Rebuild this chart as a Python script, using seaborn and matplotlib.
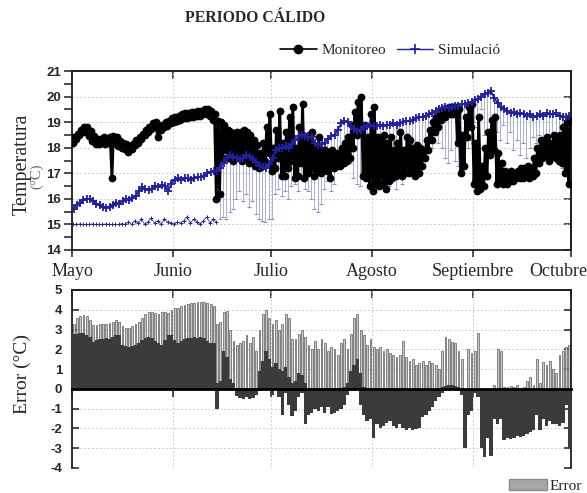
import numpy as np
import matplotlib
matplotlib.use("Agg")
import matplotlib.pyplot as plt
import matplotlib.transforms as mtrans
import seaborn as sns
from matplotlib.lines import Line2D
from matplotlib.patches import Patch
from matplotlib.ticker import MultipleLocator

# ---------------- data ----------------
title = "PERIODO CÁLIDO"
months = ["Mayo", "Junio", "Julio", "Agosto", "Septiembre", "Octubre"]
month_day = [0, 31, 61, 92, 123, 153]          # day index of 1st of month (May 1 = 0)
temp_ticks = [14, 15, 16, 17, 18, 19, 20, 21]
err_ticks = [-4, -3, -2, -1, 0, 1, 2, 3, 4, 5]

# Monitoreo: daily max / min temperature (°C), May 1 .. Sep 30
mon_hi = [18.4, 18.55, 18.7, 18.8, 18.8, 18.65, 18.45, 18.35, 18.35, 18.4,
          18.35, 18.4, 18.45, 18.4, 18.25, 18.2, 18.15, 18.05, 18.15, 18.3,
          18.4, 18.55, 18.7, 18.8, 18.95, 19.0, 18.85, 18.9, 19.0, 19.05,
          19.15, 19.2, 19.25, 19.3, 19.35, 19.35, 19.4, 19.4, 19.45, 19.45,
          19.5, 19.5, 19.45, 19.3, 19.05, 19.0, 18.9, 18.7, 18.6, 18.5,
          18.6, 18.6, 18.7, 18.6, 18.5, 18.3, 18.1, 17.8, 18.2, 18.8,
          19.3, 18.0, 18.7, 19.45, 18.2, 18.6, 19.2, 19.6, 18.0, 18.8,
          19.7, 18.3, 18.5, 18.6, 18.0, 18.4, 17.9, 17.9, 17.8, 17.9,
          17.8, 17.8, 18.0, 18.2, 18.4, 18.9, 19.4, 19.8, 20.0, 18.9,
          18.4, 19.3, 19.6, 18.4, 18.3, 18.5, 18.2, 18.4, 17.9, 18.2,
          18.6, 17.9, 18.4, 18.3, 18.0, 18.1, 18.0, 17.9, 18.3, 18.7,
          19.0, 19.2, 19.3, 19.5, 19.5, 19.6, 19.6, 19.6, 19.5, 18.5,
          19.2, 19.6, 19.7, 18.2, 19.2, 17.3, 18.0, 18.6, 19.1, 19.2,
          17.8, 17.4, 17.1, 17.0, 17.1, 17.0, 17.1, 17.2, 17.2, 17.3,
          17.2, 17.6, 18.0, 18.3, 18.2, 18.4, 18.2, 18.5, 18.3, 18.5,
          18.8, 19.0, 19.1]
mon_lo = [18.2, 18.35, 18.5, 18.6, 18.6, 18.45, 18.25, 18.15, 18.15, 18.2,
          18.15, 18.2, 16.8, 18.2, 18.05, 18.0, 17.95, 17.85, 17.95, 18.1,
          18.2, 18.35, 18.5, 18.6, 18.75, 18.8, 18.4, 18.7, 18.8, 18.85,
          18.95, 19.0, 19.05, 19.1, 19.15, 19.15, 19.2, 19.2, 19.25, 19.25,
          19.3, 19.3, 19.25, 19.1, 16.0, 16.2, 17.6, 17.9, 17.6, 17.5,
          17.6, 17.7, 17.5, 17.6, 17.4, 17.5, 17.3, 17.2, 17.3, 17.5,
          17.8, 17.1, 17.2, 17.6, 16.9, 16.9, 17.2, 17.5, 16.8, 16.9,
          17.4, 16.8, 17.0, 17.2, 16.9, 17.1, 17.0, 17.2, 17.1, 16.8,
          17.2, 17.3, 17.3, 17.4, 17.5, 17.6, 18.0, 18.5, 18.9, 16.9,
          16.8, 16.5, 16.3, 16.6, 16.5, 16.6, 16.4, 16.7, 16.8, 16.9,
          17.0, 16.9, 17.0, 17.0, 17.1, 16.9, 17.0, 17.3, 17.6, 17.9,
          18.3, 18.6, 18.8, 19.1, 19.2, 19.3, 19.3, 19.3, 18.2, 17.0,
          17.3, 18.4, 18.8, 16.6, 16.3, 16.4, 16.5, 16.9, 17.7, 17.9,
          16.6, 16.7, 16.6, 16.6, 16.7, 16.7, 16.8, 16.8, 16.8, 16.9,
          16.8, 16.9, 17.0, 17.4, 17.6, 17.7, 17.5, 17.7, 17.6, 17.5,
          17.4, 17.0, 16.6]

# Simulación: daily typical (upper) value
sim_hi = [15.6, 15.75, 15.85, 15.95, 16.0, 16.0, 15.9, 15.8, 15.75, 15.7,
          15.65, 15.7, 15.75, 15.85, 15.8, 15.9, 16.0, 15.95, 16.05, 16.1,
          16.3, 16.45, 16.4, 16.35, 16.4, 16.5, 16.45, 16.55, 16.5, 16.3,
          16.6, 16.75, 16.8, 16.75, 16.8, 16.8, 16.75, 16.8, 16.85, 16.85,
          16.9, 17.0, 17.05, 17.1, 17.1, 17.2, 17.4, 17.6, 17.7, 17.65,
          17.6, 17.55, 17.6, 17.7, 17.65, 17.55, 17.45, 17.3, 17.25, 17.2,
          17.35, 17.6, 17.9, 18.0, 18.0, 18.05, 18.0, 18.15, 18.3, 18.45,
          18.5, 18.45, 18.4, 18.4, 18.2, 18.1, 18.15, 18.2, 18.35, 18.45,
          18.5, 18.7, 18.95, 19.05, 19.0, 18.85, 18.75, 18.65, 18.7, 18.8,
          18.85, 18.9, 18.85, 18.85, 18.9, 18.85, 18.9, 18.9, 18.95, 18.9,
          18.95, 19.0, 19.05, 19.05, 19.1, 19.15, 19.2, 19.2, 19.25, 19.3,
          19.35, 19.45, 19.5, 19.55, 19.6, 19.55, 19.6, 19.65, 19.65, 19.7,
          19.7, 19.75, 19.8, 19.85, 19.9, 20.0, 20.1, 20.15, 20.2, 19.95,
          19.75, 19.6, 19.5, 19.45, 19.35, 19.4, 19.3, 19.35, 19.3, 19.25,
          19.3, 19.2, 19.25, 19.3, 19.25, 19.35, 19.3, 19.3, 19.35, 19.25,
          19.2, 19.2, 19.25]

# Simulación: lower floor points, May 1 .. Jun 14
sim_floor = [15.0, 15.0, 15.02, 15.0, 15.0, 15.0, 15.02, 15.0, 15.0, 15.0,
             15.02, 15.0, 15.0, 15.0, 15.0, 15.03, 15.0, 15.1, 15.0, 15.15,
             15.05, 15.2, 15.0, 15.1, 15.25, 15.05, 15.15, 15.0, 15.2, 15.1,
             15.05, 15.0, 15.1, 15.05, 15.15, 15.3, 15.05, 15.2, 15.1, 15.0,
             15.15, 15.3, 15.05, 15.2, 15.1]
# Simulación: daily dips, Jun 15 .. Sep 30
dip_first_day = 45
sim_dip = [15.2, 15.3, 15.2, 15.5, 15.6,
           16.0, 16.3, 15.9, 16.2, 15.7, 15.9, 15.4, 15.2, 15.15, 15.1,
           15.2, 15.2, 16.2, 16.4, 16.1, 16.3, 16.0, 16.5, 16.6, 16.3,
           16.8, 16.4, 16.3, 16.0, 15.6, 15.5, 15.8, 16.4, 16.7, 16.3,
           16.6, 17.4, 17.5, 17.3, 17.6, 17.4, 16.8, 16.6, 16.5, 17.0,
           17.3, 17.2, 17.5, 17.1, 16.9, 17.2, 16.6, 16.5, 16.8, 16.4,
           16.9, 16.6, 17.0, 17.3, 17.5, 17.9, 17.6, 18.0, 17.8, 18.3,
           18.0, 18.5, 18.2, 18.0, 17.6, 17.4, 17.9, 17.5, 17.3, 17.6,
           17.4, 18.0, 18.3, 19.0, 18.8, 19.5, 18.5, 18.0, 18.4, 19.3,
           18.6, 18.3, 18.9, 18.2, 18.6, 17.9, 18.3, 17.7, 18.2, 17.6,
           18.0, 18.4, 18.2, 18.5, 18.3, 17.9, 18.5, 18.1, 17.6, 18.4,
           17.2, 17.8, 17.0]

# Error (°C): daily peak, dense positive level, dense negative level
err_peak = [3.3, 3.6, 3.7, 3.75, 3.7, 3.5, 3.25, 3.25, 3.3, 3.3,
            3.3, 3.35, 3.4, 3.5, 3.4, 3.2, 3.1, 3.1, 3.2, 3.3,
            3.4, 3.6, 3.8, 3.9, 3.9, 3.85, 3.8, 3.9, 3.9, 3.85,
            4.0, 4.1, 4.1, 4.2, 4.25, 4.3, 4.35, 4.35, 4.4, 4.4,
            4.4, 4.35, 4.3, 4.2, 3.3, 3.4, 3.9, 3.95, 3.0, 2.4,
            2.2, 2.3, 2.4, 2.7, 2.3, 2.6, 1.9, 3.0, 3.8, 4.0,
            3.6, 3.3, 3.5, 3.0, 3.3, 3.8, 3.6, 2.5, 2.5, 2.8,
            3.0, 2.6, 2.2, 2.0, 2.4, 2.0, 2.5, 2.3, 1.9, 2.1,
            2.0, 1.7, 2.3, 2.5, 2.0, 2.8, 3.6, 3.8, 3.0, 2.7,
            2.2, 2.5, 2.1, 2.0, 2.1, 1.9, 2.0, 1.8, 1.7, 1.6,
            1.7, 2.4, 1.6, 1.4, 1.5, 1.2, 1.3, 1.4, 1.2, 1.4,
            1.3, 1.2, 1.0, 1.9, 2.6, 2.5, 2.35, 2.3, 1.9, 1.5,
            0.0, 2.0, 1.8, 1.9, 2.85, 0.0, 0.0, 0.0, 0.0, 0.2,
            2.0, 1.9, 0.1, 0.1, 0.15, 0.1, 0.2, 0.05, 0.1, 0.4,
            0.6, 0.2, 1.5, 0.3, 1.35, 1.2, 1.4, 1.0, 0.8, 1.7,
            1.9, 2.1, 2.2]
err_pos = [2.8, 2.8, 2.85, 2.85, 2.75, 2.6, 2.35, 2.45, 2.5, 2.5,
           2.55, 2.5, 2.6, 2.75, 2.7, 2.2, 2.15, 2.1, 2.15, 2.2,
           2.3, 2.45, 2.55, 2.6, 2.55, 2.4, 2.3, 2.2, 2.45, 2.7,
           2.75, 2.45, 2.3, 2.4, 2.5, 2.55, 2.55, 2.6, 2.55, 2.6,
           2.55, 2.4, 2.3, 2.3, 0.3, 0.4, 1.9, 1.6, 0.5, 0.3,
           0.05, 0.05, 0.05, 0.05, 0.05, 0.05, 0.05, 0.9, 1.4, 1.9,
           1.5, 1.1, 1.3, 1.0, 0.9, 1.1, 0.6, 0.3, 0.4, 0.8,
           0.7, 0.3, 0.05, 0.05, 0.05, 0.05, 0.05, 0.05, 0.05, 0.05,
           0.05, 0.05, 0.05, 0.1, 0.3, 0.9, 1.2, 1.5, 0.8, 0.1,
           0.05, 0.05, 0.05, 0.05, 0.05, 0.05, 0.05, 0.05, 0.05, 0.05,
           0.05, 0.05, 0.0, 0.0, 0.0, 0.0, 0.0, 0.0, 0.0, 0.0,
           0.0, 0.0, 0.0, 0.1, 0.15, 0.2, 0.2, 0.15, 0.1, 0.05,
           0.0, 0.0, 0.0, 0.0, 0.0, 0.0, 0.0, 0.0, 0.0, 0.05,
           0.0, 0.0, 0.0, 0.0, 0.0, 0.0, 0.0, 0.0, 0.0, 0.0,
           0.0, 0.0, 0.0, 0.0, 0.0, 0.0, 0.0, 0.0, 0.0, 0.0,
           0.0, 0.0, 0.0]
err_neg = [0, 0, 0, 0, 0, 0, 0, 0, 0, 0,
           0, 0, 0, 0, 0, 0, 0, 0, 0, 0,
           0, 0, 0, 0, 0, 0, 0, 0, 0, 0,
           0, 0, 0, 0, 0, 0, 0, 0, 0, 0,
           0, 0, 0, 0, -1.0, 0, 0, 0, 0, 0,
           -0.35, -0.45, -0.5, -0.4, -0.5, -0.45, -0.3, -0.1, 0, 0,
           0, -0.3, 0, -0.4, -1.3, -0.2, -0.8, -1.35, -1.1, -0.4,
           -0.2, -1.8, -1.3, -1.2, -1.0, -1.1, -0.9, -1.2, -0.9, -1.25,
           -1.2, -1.1, -1.0, -0.8, -0.3, -0.1, 0, 0, -0.8, -1.3,
           -1.6, -1.5, -2.5, -1.8, -2.0, -1.9, -1.7, -1.6, -1.9, -2.0,
           -1.8, -2.0, -2.1, -2.0, -2.1, -2.05, -2.0, -1.4, -1.3, -1.1,
           -0.9, -0.6, -0.4, -0.2, -0.1, 0, 0, 0, 0, -0.3,
           -3.0, -1.3, -1.1, -0.2, -0.4, -3.0, -3.45, -2.5, -3.4, -1.5,
           -1.8, -1.5, -2.6, -2.5, -2.55, -2.5, -2.4, -2.45, -2.4, -2.3,
           -2.2, -2.1, -1.3, -2.1, -1.5, -1.9, -1.6, -1.8, -1.8, -1.9,
           -1.7, -0.8, -3.0]

# ---------------- figure ----------------
sns.set_theme(style="white")
plt.rcParams["font.family"] = ["Liberation Serif", "DejaVu Serif"]

W, H = 587, 493
fig = plt.figure(figsize=(W / 100, H / 100), dpi=100)
L, R = 72, 571
ax1 = fig.add_axes([L / W, 1 - 250 / H, (R - L) / W, (250 - 71) / H])
ax2 = fig.add_axes([L / W, 1 - 468 / H, (R - L) / W, (468 - 290) / H])

NAVY = "#1f1fa8"
DIPC = "#8a8ecc"
days = np.arange(len(mon_hi))

# --- top panel ---
mon_t = np.ravel(np.column_stack([days + 0.25, days + 0.7]))
mon_v = np.ravel(np.column_stack([mon_lo, mon_hi]))
floor_days = np.arange(len(sim_floor))
dip_days = np.arange(dip_first_day, dip_first_day + len(sim_dip))

sns.lineplot(x=floor_days + 0.3, y=sim_floor, ax=ax1, color=NAVY, linewidth=0.5,
             marker="+", markersize=3.5, markeredgewidth=0.7,
             markeredgecolor=NAVY, estimator=None, sort=False, legend=False,
             zorder=2)
ax1.vlines(dip_days + 0.3, sim_dip, np.asarray(sim_hi)[dip_days], color=DIPC,
           linewidth=0.5, zorder=2)
ax1.plot(dip_days + 0.3, sim_dip, linestyle="none", marker="_", markersize=3,
         color=DIPC, markeredgewidth=0.8, zorder=2)
sns.lineplot(x=mon_t, y=mon_v, ax=ax1, color="black", linewidth=2.0,
             marker="o", markersize=5.6, markeredgewidth=0,
             markerfacecolor="black", estimator=None, sort=False,
             legend=False, zorder=3)
sns.lineplot(x=days + 0.5, y=sim_hi, ax=ax1, color=NAVY, linewidth=1.2,
             marker="+", markersize=5.5, markeredgewidth=1.3,
             markeredgecolor=NAVY, estimator=None, sort=False, legend=False,
             zorder=4)

ax1.set_xlim(month_day[0], month_day[-1])
ax1.set_ylim(temp_ticks[0], temp_ticks[-1])

# --- bottom panel ---
xc = days + 0.5
ax2.bar(xc, err_peak, width=0.55, color="#c8c8c8", edgecolor="#4d4d4d",
        linewidth=0.45, zorder=2)
ax2.bar(xc, err_pos, width=1.02, color="#3b3b3b", linewidth=0, zorder=3)
ax2.bar(xc, err_neg, width=1.02, color="#3b3b3b", linewidth=0, zorder=3)
ax2.set_xlim(month_day[0], month_day[-1])
ax2.set_ylim(err_ticks[0], err_ticks[-1])

# --- styling ---
grid_kw = dict(color="#cdcdcd", linestyle=(0, (2, 2)), linewidth=0.7)
tick_font = dict(family="Liberation Sans", weight="bold", size=9.5)
SPC = "#1e1e1e"

for ax in (ax1, ax2):
    ax.set_axisbelow(True)
    ax.grid(True, which="major", **grid_kw)
    for s in ax.spines.values():
        s.set_color(SPC)
        s.set_linewidth(1.3)
        s.set_visible(True)
    ax.set_xticks(month_day)
    ax.set_xlabel("")
    ax.set_ylabel("")

# top panel ticks
ax1.set_yticks(temp_ticks)
ax1.yaxis.set_minor_locator(MultipleLocator(0.5))
ax1.tick_params(axis="y", which="both", direction="out", length=6, width=1.1,
                left=True, right=False, color=SPC, pad=2)
ax1.set_yticklabels([str(t) for t in temp_ticks], fontdict=tick_font)
ax1.tick_params(axis="x", which="both", direction="out", length=5, width=1.1,
                bottom=True, top=False, color=SPC, pad=4)
ax1.set_xticklabels(months, fontsize=13, fontfamily="Liberation Serif")
lab = ax1.get_xticklabels()[-1]
lab.set_transform(lab.get_transform() + mtrans.ScaledTranslation(-13 / 100, 0, fig.dpi_scale_trans))
sec_r = ax1.secondary_yaxis("right")
sec_r.set_yticks(temp_ticks)
sec_r.tick_params(direction="in", length=5, width=1.1, labelright=False, color=SPC)
sec_r.spines["right"].set_linewidth(1.3)
sec_t = ax1.secondary_xaxis("top")
sec_t.set_xticks(month_day)
sec_t.tick_params(direction="in", length=6, width=1.1, labeltop=False, color=SPC)
sec_t.spines["top"].set_linewidth(1.3)

# bottom panel ticks
ax2.set_yticks(err_ticks)
ax2.tick_params(axis="y", direction="in", length=5, width=1.1, left=True,
                right=True, color=SPC, pad=7)
ax2.set_yticklabels([str(t) for t in err_ticks], fontdict=tick_font)
ax2.spines["bottom"].set_position(("data", 0))
ax2.spines["bottom"].set_linewidth(2.0)
ax2.spines["bottom"].set_color("black")
ax2.spines["bottom"].set_zorder(5)
ax2.tick_params(axis="x", direction="out", length=6, width=1.1, bottom=True,
                top=False, labelbottom=False, color=SPC)
sec_t2 = ax2.secondary_xaxis("top")
sec_t2.set_xticks(month_day)
sec_t2.tick_params(direction="in", length=6, width=1.1, labeltop=False, color=SPC)
sec_t2.spines["top"].set_linewidth(1.3)

# texts
fig.text(255 / W, 1 - 18 / H, title, ha="center", va="center", fontsize=11.3,
         fontweight="bold", fontfamily="Liberation Serif")
fig.text(22 / W, 1 - 164 / H, "Temperatura", rotation=90, ha="center",
         va="center", fontsize=14.5, fontfamily="Liberation Serif")
fig.text(37 / W, 1 - 176 / H, "(°C)", rotation=90, ha="center", va="center",
         fontsize=10.5, color="#6a6a6a", fontfamily="Liberation Serif")
fig.text(22 / W, 1 - 374 / H, "Error (°C)", rotation=90, ha="center",
         va="center", fontsize=14, fontfamily="Liberation Serif")

# legends
h_mon = Line2D([], [], color="black", linewidth=1.2, marker="o", markersize=6)
h_sim = Line2D([], [], color=NAVY, linewidth=1.0, marker="+", markersize=7,
               markeredgewidth=1.2)
fig.legend([h_mon, h_sim], ["Monitoreo", "Simulació"], loc="center",
           bbox_to_anchor=(390 / W, 1 - 50 / H), ncol=2, frameon=False,
           prop=dict(family="Liberation Serif", size=11), handlelength=2.4,
           handletextpad=0.3, columnspacing=0.7, borderpad=0, borderaxespad=0)
fig.legend([Patch(facecolor="#a6a6a6", edgecolor="#8a8a8a")], ["Error"],
           loc="center", bbox_to_anchor=(545 / W, 1 - 486 / H), frameon=False,
           prop=dict(family="Liberation Serif", size=11), handlelength=2.5,
           handleheight=0.7, handletextpad=0.15, borderpad=0, borderaxespad=0)

fig.savefig("out.png", dpi=100)
